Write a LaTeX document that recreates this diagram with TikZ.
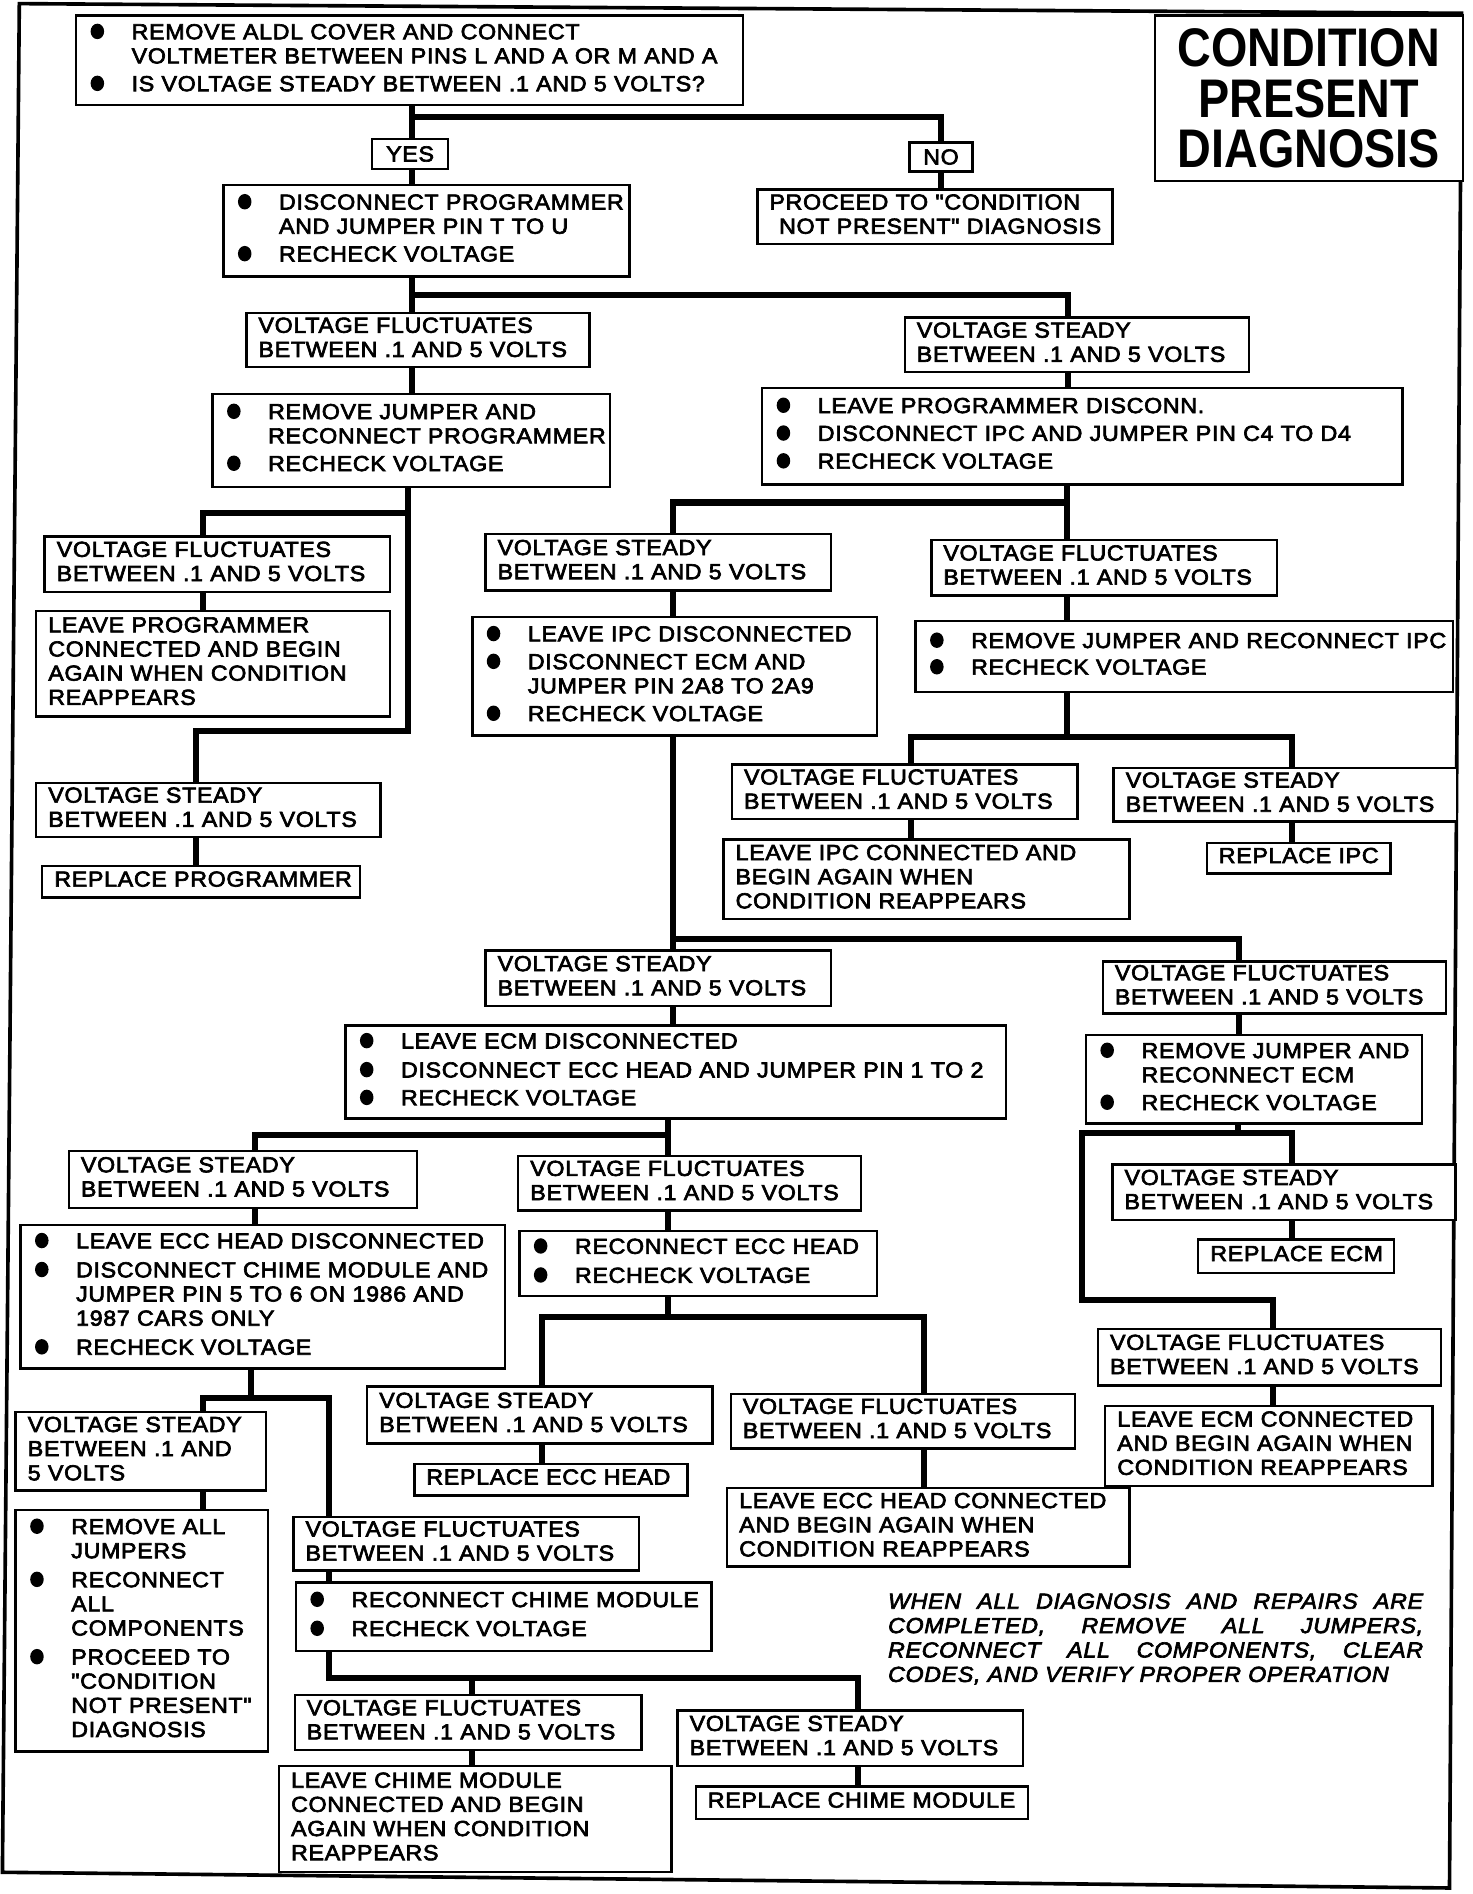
\documentclass[tikz,border=0pt]{standalone}
\usepackage{fontspec}
\usetikzlibrary{backgrounds}
\newfontfamily\boxfont{Liberation Sans}[FakeBold=3, FakeStretch=1.07, LetterSpace=3]
\newfontfamily\titlefont{Liberation Sans}[FakeStretch=0.86]
\newcommand\bu{\makebox[36pt][l]{\hspace{2pt}\tikz[baseline={(0pt,-6.5pt)}]\fill (0pt,0pt) ellipse [x radius=5.6pt, y radius=6.4pt];}}
\newcommand\nb{\hspace*{36pt}}
\newcommand\VF{VOLTAGE FLUCTUATES\\BETWEEN .1 AND 5 VOLTS}
\newcommand\VS{VOLTAGE STEADY\\BETWEEN .1 AND 5 VOLTS}
\newcommand\bbox[6]{\node[box, minimum width=#4pt, minimum height=#5pt, text width=#4pt-20pt] (#1) at (#2,#3) {\begin{tabular}{@{}l@{}}#6\end{tabular}};}
\tikzset{
  box/.style={draw, line width=2pt, fill=white, anchor=north west, inner xsep=10pt, inner ysep=0pt, align=left, font=\boxfont\fontsize{18}{20}\selectfont},
  sbox/.style={draw, line width=2pt, fill=white, anchor=north west, inner sep=0pt, font=\boxfont\fontsize{18}{20}\selectfont},
  conn/.style={line width=5pt, line cap=rect, line join=miter},
  frame/.style={line width=3pt, line join=miter}
}
\begin{document}
\begin{tikzpicture}[x=1pt, y=-1pt]
\useasboundingbox (0,0) rectangle (1219,1568);
\draw[frame] (16,3) -- (1210,11) -- (1200,1563) -- (2,1550) -- cycle;

% title
\node[draw, line width=2pt, fill=white, anchor=north west, minimum width=255pt, minimum height=137pt, inner sep=0pt, align=center, font=\titlefont\bfseries\fontsize{45}{42}\selectfont] (title) at (955,12) {CONDITION\\PRESENT\\DIAGNOSIS};

% boxes
\bbox{A}{62}{12}{552}{74}{\bu REMOVE ALDL COVER AND CONNECT\\ \nb VOLTMETER BETWEEN PINS L AND A OR M AND A\\[3pt] \bu IS VOLTAGE STEADY BETWEEN .1 AND 5 VOLTS?}
\node[sbox, minimum width=63pt, minimum height=25pt] (YES) at (307,114) {YES};
\node[sbox, minimum width=52pt, minimum height=24pt] (NO) at (752,117) {NO};
\bbox{B}{184}{152}{336}{76}{\bu DISCONNECT PROGRAMMER\\ \nb AND JUMPER PIN T TO U\\[3pt] \bu RECHECK VOLTAGE}
\bbox{PROC}{626}{156}{294}{45}{PROCEED TO "CONDITION\\ \hspace*{8pt}NOT PRESENT" DIAGNOSIS}
\bbox{VF1}{203}{258}{284}{45}{\VF}
\bbox{VS1}{748}{262}{285}{45}{\VS}
\bbox{E}{175}{325}{329}{77}{\bu REMOVE JUMPER AND\\ \nb RECONNECT PROGRAMMER\\[3pt] \bu RECHECK VOLTAGE}
\bbox{F}{630}{320}{530}{80}{\bu LEAVE PROGRAMMER DISCONN.\\[3pt] \bu DISCONNECT IPC AND JUMPER PIN C4 TO D4\\[3pt] \bu RECHECK VOLTAGE}
\bbox{VF2}{36}{443}{286}{46}{\VF}
\bbox{LP}{29}{505}{293}{87}{LEAVE PROGRAMMER\\CONNECTED AND BEGIN\\AGAIN WHEN CONDITION\\REAPPEARS}
\bbox{VS2}{29}{647}{285}{45}{\VS}
\bbox{RP}{34}{716}{263}{26}{REPLACE PROGRAMMER}
\bbox{VS3}{401}{441}{286}{47}{\VS}
\bbox{VF3}{770}{446}{286}{46}{\VF}
\bbox{G}{390}{510}{335}{98}{\bu LEAVE IPC DISCONNECTED\\[3pt] \bu DISCONNECT ECM AND\\ \nb JUMPER PIN 2A8 TO 2A9\\[3pt] \bu RECHECK VOLTAGE}
\bbox{H}{757}{513}{445}{59}{\bu REMOVE JUMPER AND RECONNECT IPC\\[2pt] \bu RECHECK VOLTAGE}
\bbox{VF4}{605}{632}{286}{45}{\VF}
\bbox{VS4}{921}{635}{284}{44}{\VS}
\bbox{RIPC}{998}{697}{152}{25}{REPLACE IPC}
\bbox{LIPC}{598}{694}{336}{66}{LEAVE IPC CONNECTED AND\\BEGIN AGAIN WHEN\\CONDITION REAPPEARS}
\bbox{VS5}{401}{786}{286}{46}{\VS}
\bbox{VF5}{912}{795}{284}{43}{\VF}
\bbox{I}{285}{848}{547}{77}{\bu LEAVE ECM DISCONNECTED\\[4pt] \bu DISCONNECT ECC HEAD AND JUMPER PIN 1 TO 2\\[3pt] \bu RECHECK VOLTAGE}
\bbox{J}{898}{856}{278}{73}{\bu REMOVE JUMPER AND\\ \nb RECONNECT ECM\\[3pt] \bu RECHECK VOLTAGE}
\bbox{VS7}{56}{952}{288}{47}{\VS}
\bbox{VF7}{428}{956}{284}{45}{\VF}
\bbox{K}{16}{1013}{401}{119}{\bu LEAVE ECC HEAD DISCONNECTED\\[4pt] \bu DISCONNECT CHIME MODULE AND\\ \nb JUMPER PIN 5 TO 6 ON 1986 AND\\ \nb 1987 CARS ONLY\\[4pt] \bu RECHECK VOLTAGE}
\bbox{L}{429}{1018}{296}{54}{\bu RECONNECT ECC HEAD\\[4pt] \bu RECHECK VOLTAGE}
\bbox{VS6}{920}{963}{284}{46}{\VS}
\bbox{RECM}{991}{1025}{162}{28}{REPLACE ECM}
\bbox{VF6}{908}{1099}{284}{47}{\VF}
\bbox{LECM}{914}{1163}{271}{66}{LEAVE ECM CONNECTED\\AND BEGIN AGAIN WHEN\\CONDITION REAPPEARS}
\bbox{VS8}{303}{1147}{286}{47}{\VS}
\bbox{RECC}{342}{1211}{226}{26}{REPLACE ECC HEAD}
\bbox{VF8}{604}{1153}{285}{45}{\VF}
\bbox{LECC}{601}{1231}{333}{65}{LEAVE ECC HEAD CONNECTED\\AND BEGIN AGAIN WHEN\\CONDITION REAPPEARS}
\bbox{VS9}{12}{1168}{207}{65}{VOLTAGE STEADY\\BETWEEN .1 AND\\5 VOLTS}
\bbox{M}{12}{1249}{209}{200}{\bu REMOVE ALL\\ \nb JUMPERS\\[4pt] \bu RECONNECT\\ \nb ALL\\ \nb COMPONENTS\\[4pt] \bu PROCEED TO\\ \nb "CONDITION\\ \nb NOT PRESENT"\\ \nb DIAGNOSIS}
\bbox{VF9}{242}{1255}{286}{44}{\VF}
\bbox{N}{244}{1309}{344}{57}{\bu RECONNECT CHIME MODULE\\[4pt] \bu RECHECK VOLTAGE}
\bbox{VF10}{243}{1402}{287}{46}{\VF}
\bbox{LCH}{230}{1461}{325}{88}{LEAVE CHIME MODULE\\CONNECTED AND BEGIN\\AGAIN WHEN CONDITION\\REAPPEARS}
\bbox{VS10}{560}{1415}{286}{46}{\VS}
\bbox{RCH}{575}{1478}{275}{27}{REPLACE CHIME MODULE}

\node[anchor=north west, text width=443pt, align=justify, inner sep=0pt, font=\boxfont\itshape\fontsize{18}{20.2}\selectfont] (note) at (735,1319) {WHEN ALL DIAGNOSIS AND REPAIRS ARE\linebreak COMPLETED, REMOVE ALL JUMPERS,\linebreak RECONNECT ALL COMPONENTS, CLEAR\linebreak CODES, AND VERIFY PROPER OPERATION};

% junction coordinates
\coordinate (c1) at (341,97);
\coordinate (c2) at (341,244);
\coordinate (c2r) at (884,244);
\coordinate (c3) at (338,425);
\coordinate (c3l) at (168,425);
\coordinate (c3b) at (338,605);
\coordinate (c3bl) at (162,605);
\coordinate (c4) at (883,416);
\coordinate (c4l) at (557,416);
\coordinate (c5) at (883,610);
\coordinate (c5l) at (754,610);
\coordinate (c5r) at (1070,610);
\coordinate (c6) at (557,777);
\coordinate (c6r) at (1026,777);
\coordinate (c7) at (1025,938);
\coordinate (c7l) at (896,938);
\coordinate (c7r) at (1070,938);
\coordinate (c7d) at (896,1076);
\coordinate (c7dr) at (1054,1076);
\coordinate (c8) at (553,940);
\coordinate (c8l) at (211,940);
\coordinate (c9) at (553,1090);
\coordinate (c9l) at (449,1090);
\coordinate (c9r) at (765,1090);
\coordinate (c10) at (208,1157);
\coordinate (c10l) at (168,1157);
\coordinate (c10r) at (272,1157);
\coordinate (c11) at (272,1389);
\coordinate (c11m) at (391,1389);
\coordinate (c11r) at (710,1389);

\begin{scope}[on background layer]
\draw[conn] (A.south -| c1) -- (YES.north -| c1);
\draw[conn] (c1) -- (c1 -| NO.north) -- (NO.north);
\draw[conn] (YES.south -| c1) -- (B.north -| c1);
\draw[conn] (NO.south) -- (NO.south |- PROC.north);
\draw[conn] (B.south -| c2) -- (VF1.north -| c2);
\draw[conn] (c2) -- (c2r) -- (c2r |- VS1.north);
\draw[conn] (VF1.south -| c2) -- (E.north -| c2);
\draw[conn] (VS1.south -| c2r) -- (F.north -| c2r);
\draw[conn] (E.south -| c3) -- (c3b) -- (c3bl) -- (c3bl |- VS2.north);
\draw[conn] (c3) -- (c3l) -- (c3l |- VF2.north);
\draw[conn] (VF2.south -| c3l) -- (LP.north -| c3l);
\draw[conn] (VS2.south -| c3bl) -- (RP.north -| c3bl);
\draw[conn] (F.south -| c4) -- (c4 |- VF3.north);
\draw[conn] (c4) -- (c4l) -- (c4l |- VS3.north);
\draw[conn] (VS3.south -| c4l) -- (G.north -| c4l);
\draw[conn] (VF3.south -| c4) -- (H.north -| c4);
\draw[conn] (H.south -| c5) -- (c5);
\draw[conn] (c5l |- VF4.north) -- (c5l) -- (c5r) -- (c5r |- VS4.north);
\draw[conn] (VF4.south -| c5l) -- (LIPC.north -| c5l);
\draw[conn] (VS4.south -| c5r) -- (RIPC.north -| c5r);
\draw[conn] (G.south -| c6) -- (c6 |- VS5.north);
\draw[conn] (c6) -- (c6r) -- (c6r |- VF5.north);
\draw[conn] (VS5.south -| c6) -- (I.north -| c6);
\draw[conn] (VF5.south -| c6r) -- (J.north -| c6r);
\draw[conn] (J.south -| c7) -- (c7);
\draw[conn] (c7r |- VS6.north) -- (c7r) -- (c7l) -- (c7d) -- (c7dr) -- (c7dr |- VF6.north);
\draw[conn] (VS6.south -| c7r) -- (RECM.north -| c7r);
\draw[conn] (VF6.south -| c7dr) -- (LECM.north -| c7dr);
\draw[conn] (I.south -| c8) -- (c8 |- VF7.north);
\draw[conn] (c8) -- (c8l) -- (c8l |- VS7.north);
\draw[conn] (VS7.south -| c8l) -- (K.north -| c8l);
\draw[conn] (VF7.south -| c8) -- (L.north -| c8);
\draw[conn] (L.south -| c9) -- (c9);
\draw[conn] (c9l |- VS8.north) -- (c9l) -- (c9r) -- (c9r |- VF8.north);
\draw[conn] (VS8.south -| c9l) -- (RECC.north -| c9l);
\draw[conn] (VF8.south -| c9r) -- (LECC.north -| c9r);
\draw[conn] (K.south -| c10) -- (c10);
\draw[conn] (c10l |- VS9.north) -- (c10l) -- (c10r) -- (c10r |- VF9.north);
\draw[conn] (VS9.south -| c10l) -- (M.north -| c10l);
\draw[conn] (VF9.south -| c10r) -- (N.north -| c10r);
\draw[conn] (N.south -| c11) -- (c11) -- (c11r) -- (c11r |- VS10.north);
\draw[conn] (c11m) -- (c11m |- VF10.north);
\draw[conn] (VF10.south -| c11m) -- (LCH.north -| c11m);
\draw[conn] (VS10.south -| c11r) -- (RCH.north -| c11r);
\end{scope}
\end{tikzpicture}
\end{document}
